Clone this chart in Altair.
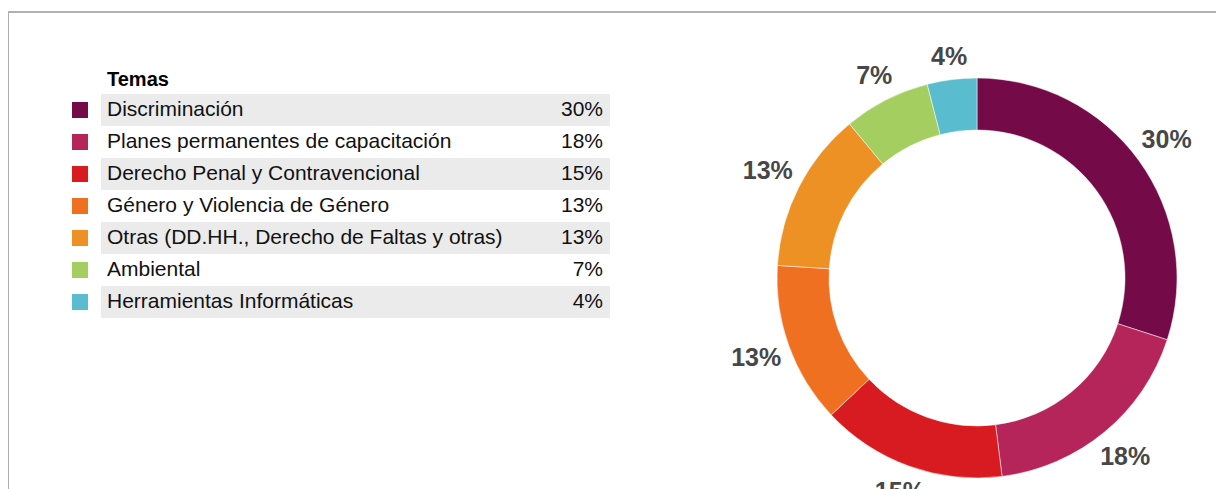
import altair as alt
import pandas as pd

categories = [
    "Discriminación",
    "Planes permanentes de capacitación",
    "Derecho Penal y Contravencional",
    "Género y Violencia de Género",
    "Otras (DD.HH., Derecho de Faltas y otras)",
    "Ambiental",
    "Herramientas Informáticas",
]
values = [30, 18, 15, 13, 13, 7, 4]
colors = ["#740A47", "#B5255A", "#D71B20", "#F07022", "#EE9125", "#A4CF60", "#5ABCCF"]

df = pd.DataFrame({
    "cat": categories,
    "value": values,
    "row": list(range(len(categories))),
})
df["label"] = df["value"].astype(str) + "%"
df["shade"] = df["row"] % 2 == 0

FONT = "Liberation Sans"
W, H = 1208, 481

color_scale = alt.Scale(domain=categories, range=colors)
yscale = alt.Scale(domain=[0, 7], range=[86, 310])

base = alt.Chart(df)

frame = base.transform_filter("datum.row == 0").mark_rect(
    fill=None, stroke="#b0b0b0", strokeWidth=2
).encode(x=alt.value(0), x2=alt.value(W + 20), y=alt.value(4), y2=alt.value(H + 20))

bands = base.transform_filter("datum.shade").transform_calculate(
    r2="datum.row + 1"
).mark_rect(color="#ebebeb").encode(
    y=alt.Y("row:Q", scale=yscale, axis=None),
    y2="r2:Q",
    x=alt.value(93),
    x2=alt.value(602),
)

centered = base.transform_calculate(rc="datum.row + 0.5")

swatches = centered.mark_square(size=256, opacity=1).encode(
    y=alt.Y("rc:Q", scale=yscale, axis=None),
    x=alt.value(72),
    color=alt.Color("cat:N", scale=color_scale, legend=None),
)

names = centered.mark_text(
    align="left", baseline="middle", font=FONT, fontSize=21, color="#111111"
).encode(
    y=alt.Y("rc:Q", scale=yscale, axis=None),
    x=alt.value(99),
    text="cat:N",
)

pcts = centered.mark_text(
    align="right", baseline="middle", font=FONT, fontSize=21, color="#111111"
).encode(
    y=alt.Y("rc:Q", scale=yscale, axis=None),
    x=alt.value(595),
    text="label:N",
)

title = base.transform_filter("datum.row == 0").mark_text(
    align="left", baseline="middle", font=FONT, fontSize=20, fontWeight="bold", color="#000000"
).encode(x=alt.value(99), y=alt.value(72), text=alt.value("Temas"))

donut = base.mark_arc(innerRadius=148, outerRadius=200, stroke="white", strokeWidth=0.5).encode(
    theta=alt.Theta("value:Q", stack=True),
    order=alt.Order("row:Q"),
    color=alt.Color("cat:N", scale=color_scale, legend=None),
    x=alt.value(969),
    y=alt.value(270),
)

# label distance: ring edge + gap + half of the text box along the radial direction
labels = base.transform_window(
    cum="sum(value)", sort=[alt.SortField("row")], frame=[None, 0]
).transform_joinaggregate(
    total="sum(value)"
).transform_calculate(
    mid="(datum.cum - datum.value / 2) / datum.total * 2 * PI",
    lr="211 + 7.2 * length(datum.label) * abs(sin(datum.mid)) + 10 * abs(cos(datum.mid))",
).mark_text(
    font=FONT, fontSize=25, fontWeight="bold", color="#474747", align="center", baseline="middle"
).encode(
    theta=alt.Theta("mid:Q", scale=None),
    radius=alt.Radius("lr:Q", scale=None),
    text="label:N",
    x=alt.value(969),
    y=alt.value(270),
)

chart = alt.layer(frame, bands, swatches, names, pcts, title, donut, labels).resolve_scale(
    theta="independent", radius="independent"
).properties(
    width=W, height=H, autosize=alt.AutoSizeParams(type="none"), padding=0
).configure_view(stroke=None)

chart.save("out.html", embed_options={"renderer": "svg", "actions": False})
